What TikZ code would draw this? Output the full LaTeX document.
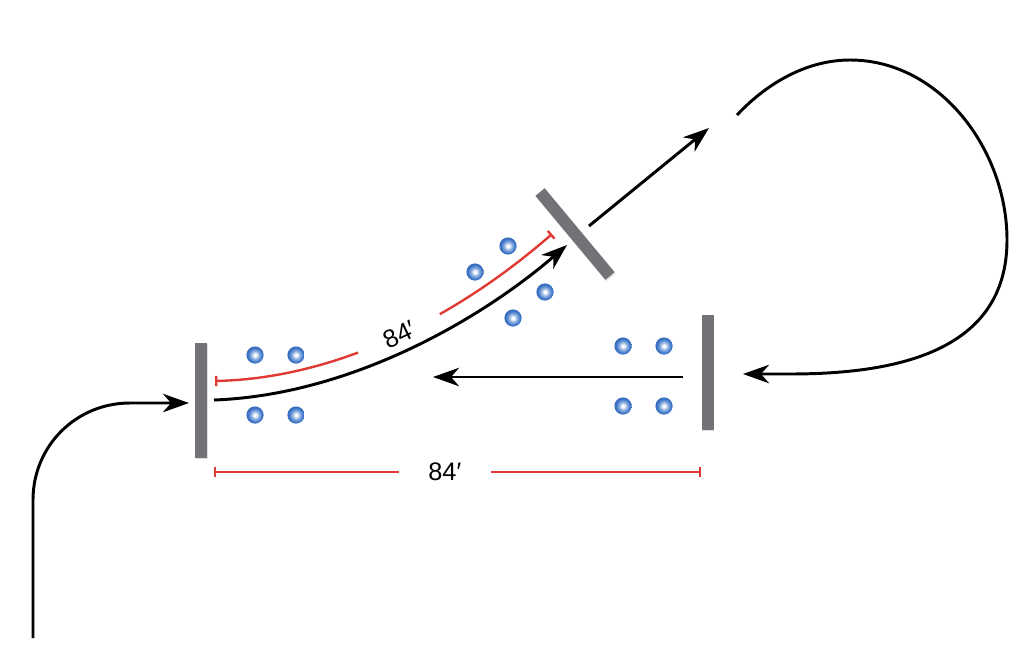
\documentclass[tikz,border=0pt]{standalone}
\usepackage{fontspec}
\setmainfont{Liberation Sans}
\usepackage{xcolor}
\usetikzlibrary{arrows.meta,positioning,shadows}

\definecolor{mirrorgray}{RGB}{113,115,119}
\definecolor{atomblue}{RGB}{58,116,200}
\definecolor{dimred}{RGB}{224,58,52}

\pgfdeclareradialshading{atomball}{\pgfpointorigin}{color(0bp)=(white); color(3bp)=(white); color(13bp)=(atomblue!65); color(21bp)=(atomblue); color(25bp)=(atomblue!90!black); color(50bp)=(atomblue!90!black)}

\begin{document}
\begin{tikzpicture}[
    x=0.025cm, y=-0.025cm,
    mirror/.style={rectangle, fill=mirrorgray, minimum width=0.3cm, minimum height=2.875cm, inner sep=0pt,
        drop shadow={opacity=0.25, shadow xshift=0.7pt, shadow yshift=-0.9pt}},
    atom/.style={circle, shading=atomball, minimum size=0.43cm, inner sep=0pt},
    beam/.style={-{Stealth[length=0.65cm, width=0.46cm, inset=0.2cm]}, line width=2.1pt},
    dim/.style={{Bar[width=0.26cm]}-{Bar[width=0.26cm]}, draw=dimred, line width=1.7pt},
    lbl/.style={font=\fontsize{18}{21}\selectfont, fill=white, inner sep=1pt},
]
    \useasboundingbox (0,0) rectangle (1024,665);

    % mirrors
    \node[mirror] (mL) at (201,400.5) {};
    \node[mirror] (mR) at (707.5,372.5) {};
    \node[mirror, minimum height=2.73cm, rotate=39.8] (mD) at (575,234) {};

    % beam end points
    \coordinate (in0) at (33,638);
    \coordinate (inL) at (189,403);
    \coordinate (outL) at (214,400);
    \coordinate (hitD) at (567,245);
    \coordinate (outD) at (589,226);
    \coordinate (loop0) at (709,128);
    \coordinate (loop1) at (737,115);
    \coordinate (hitR) at (743,374);
    \coordinate (outR) at (683,377);
    \coordinate (hitL) at (433,377);

    % atoms
    \node[atom] (a1) at (255,355) {};
    \node[atom] (a2) at (296,355) {};
    \node[atom] (a3) at (255,415) {};
    \node[atom] (a4) at (296,415) {};
    \node[atom] (a5) at (508,246) {};
    \node[atom] (a6) at (475,272) {};
    \node[atom] (a7) at (545,292) {};
    \node[atom] (a8) at (513,318) {};
    \node[atom] (a9) at (623,346) {};
    \node[atom] (a10) at (664,346) {};
    \node[atom] (a11) at (623,406) {};
    \node[atom] (a12) at (664,406) {};

    % lengths
    \draw[dim] (215,381) .. controls (345,378) and (465,310) .. (552,234)
        node[lbl, pos=0.5, sloped, minimum width=2.25cm] (lenD) {84′};
    \draw[dim] (214,472) -- (701,472)
        node[lbl, pos=0.474, minimum width=2.3cm] (lenB) {84′};

    % beams
    \draw[beam] (in0) -- (33,500) .. controls (33,446) and (76,403) .. (130,403) -- (inL);
    \draw[beam] (outL) .. controls (350,395) and (480,320) .. (hitD);
    \draw[beam] (outD) -- (loop0);
    \draw[beam] (loop1) .. controls (770,80) and (810,60) .. (850,60)
        .. controls (940,60) and (1007,150) .. (1007,240)
        .. controls (1007,350) and (900,374) .. (790,374) -- (hitR);
    \draw[beam] (outR) -- (hitL);
\end{tikzpicture}
\end{document}
